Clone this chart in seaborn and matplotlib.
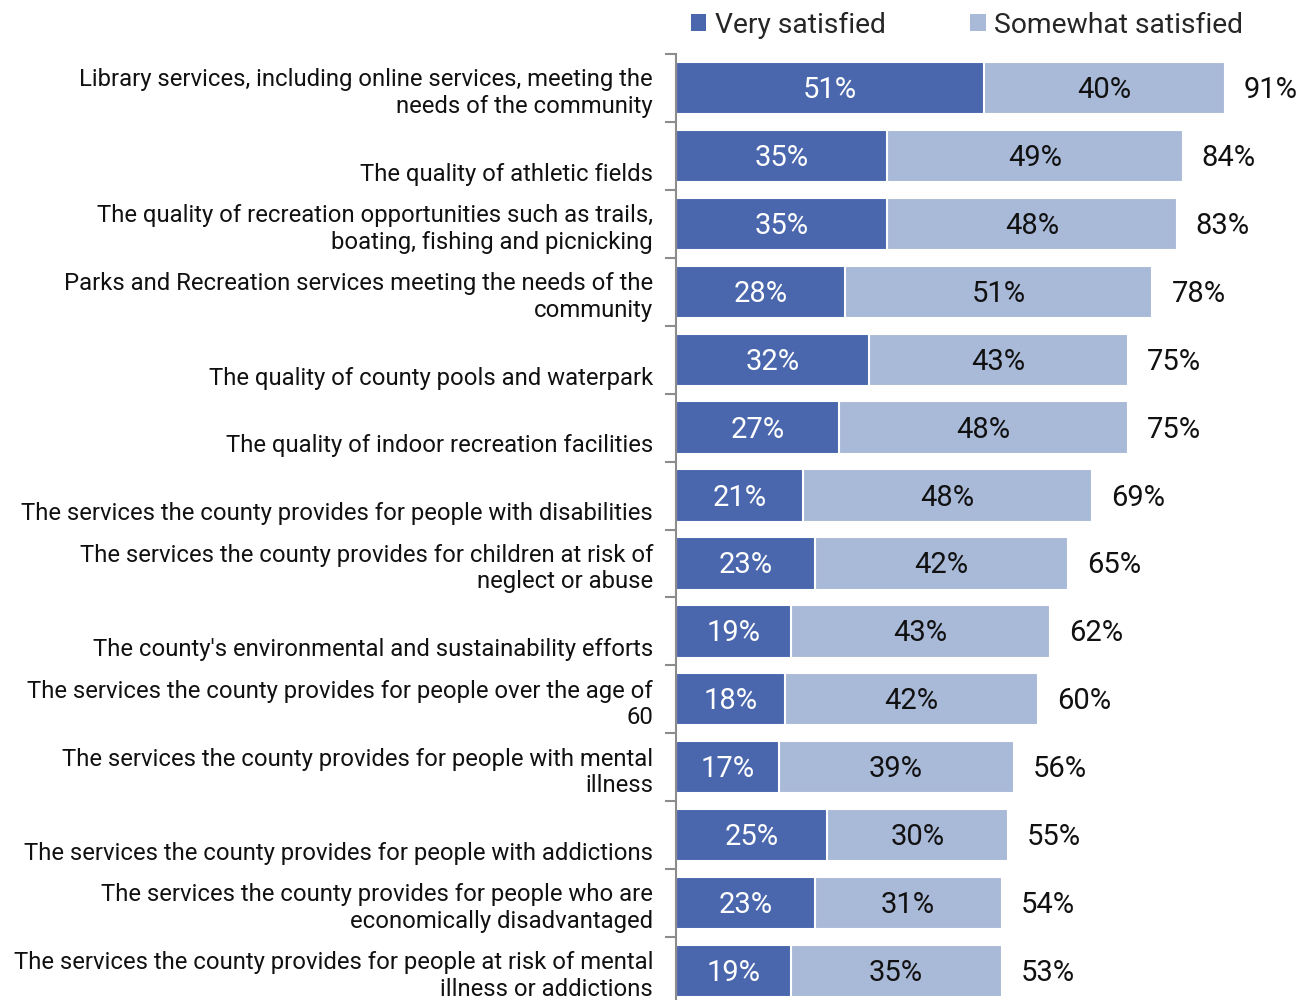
import matplotlib
matplotlib.use("Agg")
import matplotlib.pyplot as plt
import matplotlib.transforms as mtransforms
from matplotlib.patches import Patch
import seaborn as sns
import pandas as pd
import numpy as np

categories = [
    "Library services, including online services, meeting the\nneeds of the community",
    "The quality of athletic fields",
    "The quality of recreation opportunities such as trails,\nboating, fishing and picnicking",
    "Parks and Recreation services meeting the needs of the\ncommunity",
    "The quality of county pools and waterpark",
    "The quality of indoor recreation facilities",
    "The services the county provides for people with disabilities",
    "The services the county provides for children at risk of\nneglect or abuse",
    "The county's environmental and sustainability efforts",
    "The services the county provides for people over the age of\n60",
    "The services the county provides for people with mental\nillness",
    "The services the county provides for people with addictions",
    "The services the county provides for people who are\neconomically disadvantaged",
    "The services the county provides for people at risk of mental\nillness or addictions",
]
very_satisfied = [51, 35, 35, 28, 32, 27, 21, 23, 19, 18, 17, 25, 23, 19]
somewhat_satisfied = [40, 49, 48, 51, 43, 48, 48, 42, 43, 42, 39, 30, 31, 35]
totals = [91, 84, 83, 78, 75, 75, 69, 65, 62, 60, 56, 55, 54, 53]

DARK = "#4A67AE"
LIGHT = "#A9B9D8"

sns.set_theme(style="white")
plt.rcParams["font.family"] = ["Roboto", "DejaVu Sans"]

df = pd.DataFrame({
    "cat": categories,
    "very": very_satisfied,
    "some": somewhat_satisfied,
    "total": totals,
})
df["stack"] = df["very"] + df["some"]

fig = plt.figure(figsize=(13.08, 10.0), dpi=100)
ax = fig.add_axes([676 / 1308, -0.005, 1 - 676 / 1308, 0.951])

sns.barplot(data=df, y="cat", x="stack", color=LIGHT, orient="h", width=0.77,
            edgecolor="white", linewidth=1.5, ax=ax, saturation=1)
sns.barplot(data=df, y="cat", x="very", color=DARK, orient="h", width=0.77,
            edgecolor="white", linewidth=1.5, ax=ax, saturation=1)

ax.set_xlim(0, 104.8)
ax.set_ylim(len(categories) - 0.5, -0.5)
ax.set_xlabel("")
ax.set_ylabel("")
ax.set_xticks([])
ax.set_yticks([])
ax.set_yticks(np.arange(-0.5, len(categories) + 0.5, 1), minor=True)
ax.tick_params(axis="y", which="minor", left=True, length=8, width=1.5,
               color="#8C8C8C", direction="out")
for s in ["top", "right", "bottom"]:
    ax.spines[s].set_visible(False)
ax.spines["left"].set_color("#8C8C8C")
ax.spines["left"].set_linewidth(1.5)

lab_tr = mtransforms.blended_transform_factory(ax.transAxes, ax.transData)
off_tr = mtransforms.offset_copy(lab_tr, fig=fig, x=-23, y=0, units="dots")
for i, c in enumerate(categories):
    ax.text(0, i + 0.44, c, transform=off_tr, ha="right", va="bottom",
            fontsize=17.2, color="#111111", linespacing=1.2)

val_tr = mtransforms.offset_copy(ax.transData, fig=fig, x=0, y=-2, units="dots")
tot_tr = mtransforms.offset_copy(ax.transData, fig=fig, x=19, y=-2, units="dots")
for i, (v, s, t, st) in enumerate(zip(very_satisfied, somewhat_satisfied, totals, df["stack"])):
    ax.text(v / 2, i, f"{v}%", transform=val_tr, ha="center", va="center",
            color="white", fontsize=21)
    ax.text(v + s / 2, i, f"{s}%", transform=val_tr, ha="center", va="center",
            color="#111111", fontsize=21)
    ax.text(st, i, f"{t}%", transform=tot_tr, ha="left", va="center",
            color="#111111", fontsize=21)

handles = [Patch(facecolor=DARK, edgecolor="none"), Patch(facecolor=LIGHT, edgecolor="none")]
fig.legend(handles, ["Very satisfied", "Somewhat satisfied"], loc="center",
           bbox_to_anchor=(967 / 1308, 1 - 25 / 1000), ncol=2, frameon=False,
           fontsize=20.3, handlelength=0.55, handleheight=0.55, handletextpad=0.3,
           columnspacing=3.0)

fig.savefig("out.png", dpi=100)
